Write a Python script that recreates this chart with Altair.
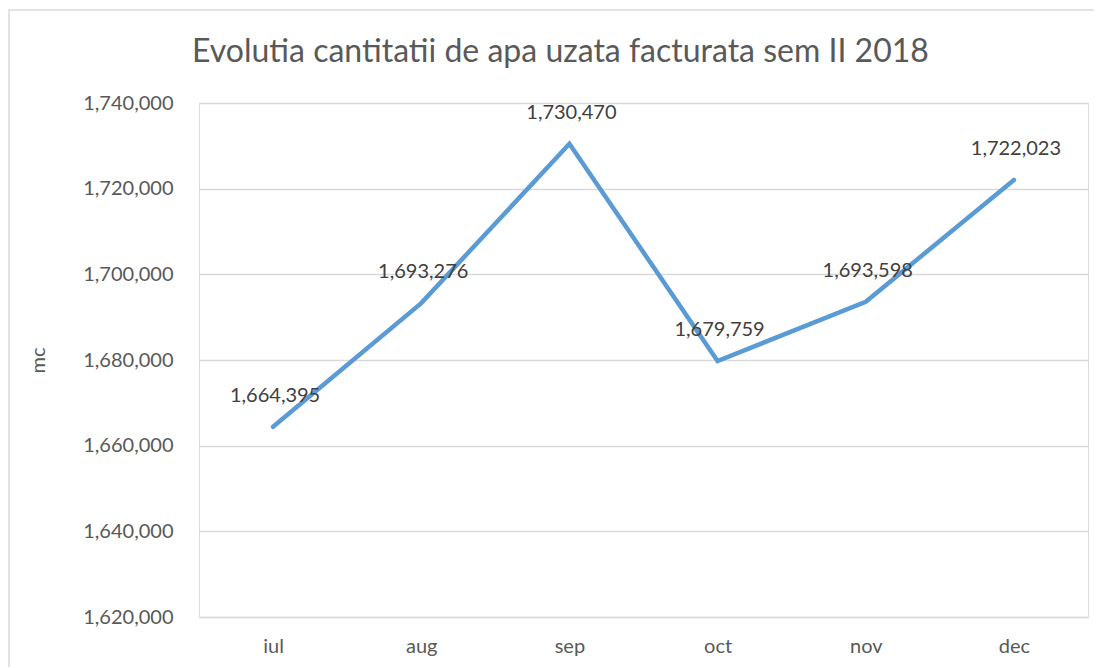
import altair as alt
import pandas as pd

months = ["iul", "aug", "sep", "oct", "nov", "dec"]
values = [1664395, 1693276, 1730470, 1679759, 1693598, 1722023]
y_ticks = [1620000, 1640000, 1660000, 1680000, 1700000, 1720000, 1740000]
title_text = "Evolutia cantitatii de apa uzata facturata sem II 2018"

df = pd.DataFrame({"luna": months, "valoare": values})

FONT = "Lato"
GREY = "#595959"

base = alt.Chart(df)

x = alt.X("luna:N", sort=months, title=None,
          scale=alt.Scale(paddingInner=0, paddingOuter=0.5),
          axis=alt.Axis(labelAngle=0, labelPadding=19, ticks=False,
                        domainColor="#d9d9d9", domainWidth=1.5,
                        labelFont=FONT, labelFontSize=20, labelColor=GREY,
                        grid=False))
y = alt.Y("valoare:Q", title="mc",
          scale=alt.Scale(domain=[1620000, 1740000], nice=False, zero=False),
          axis=alt.Axis(values=y_ticks, labelExpr="format(datum.value, ',.0f')",
                        ticks=False, domain=False,
                        labelPadding=26, gridColor="#d9d9d9", gridWidth=1.5,
                        labelFont=FONT, labelFontSize=20, labelColor=GREY,
                        titleFont=FONT, titleFontSize=20, titleColor=GREY,
                        titleFontWeight="normal", titlePadding=34))

line = base.mark_line(color="#5B9BD5", strokeWidth=4.5, strokeCap="round",
                      strokeJoin="miter").encode(x=x, y=y)

labels = base.mark_text(dy=-31, dx=2, font=FONT, fontSize=20, color="#404040").encode(
    x=x, y=y,
    text=alt.Text("valoare:Q", format=","),
)

one = alt.Data(values=[{"a": 1}])

border = alt.Chart(one).mark_rect(
    fill=None, stroke="#d9d9d9", strokeWidth=1.5, clip=False
).encode(x=alt.value(-190), x2=alt.value(920), y=alt.value(-93), y2=alt.value(580))

title = alt.Chart(one).mark_text(
    text=title_text, font=FONT, fontSize=32, color=GREY,
    align="left", baseline="alphabetic", clip=False
).encode(x=alt.value(-7), y=alt.value(-41))

chart = alt.layer(border, title, line, labels).properties(
    width=889, height=514,
    autosize=alt.AutoSizeParams(type="none"),
    padding={"left": 191, "top": 95, "right": 6, "bottom": 50},
).configure_view(stroke=None).configure(background="white")

chart.save("out.html", embed_options={"renderer": "svg", "actions": False})
